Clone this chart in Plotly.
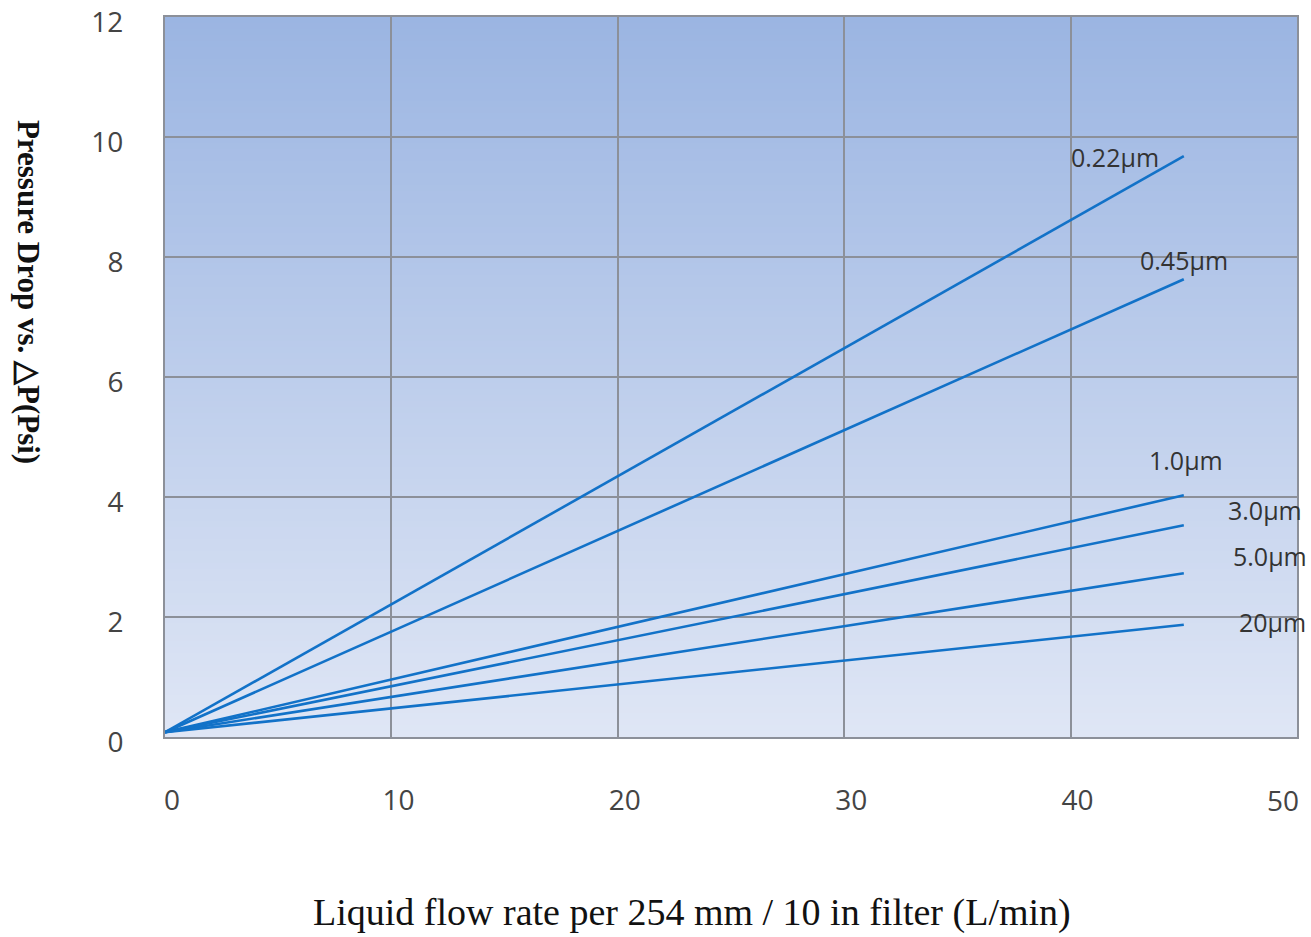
import plotly.graph_objects as go

# Data
sizes = ["0.22μm", "0.45μm", "1.0μm", "3.0μm", "5.0μm", "20μm"]
flow = [0, 45]
drop_022 = [0.08, 9.68]
drop_045 = [0.08, 7.63]
drop_10 = [0.08, 4.03]
drop_30 = [0.08, 3.53]
drop_50 = [0.08, 2.73]
drop_20 = [0.08, 1.87]
series = [drop_022, drop_045, drop_10, drop_30, drop_50, drop_20]

# Label anchor positions (data coords)
label_x = [41.96, 45.0, 45.1, 48.6, 48.8, 48.9]
label_y = [9.67, 7.95, 4.62, 3.78, 3.02, 1.92]

x_ticks = [0, 10, 20, 30, 40, 50]
x_ticktext = ["0", "10", "20", "30", "40", ""]
x_last_label = "50"
y_ticks = [0, 2, 4, 6, 8, 10, 12]

LINE = "#1272c8"
GRID = "#8c9099"
TICKFONT = dict(family="Open Sans", size=28, color="#444444")

fig = go.Figure()
for name, ys in zip(sizes, series):
    fig.add_trace(go.Scatter(x=flow, y=ys, mode="lines", name=name,
                             line=dict(color=LINE, width=2.6), showlegend=False))

for name, lx, ly in zip(sizes, label_x, label_y):
    fig.add_annotation(x=lx, y=ly, text=name, showarrow=False,
                       font=dict(family="Open Sans", size=25, color="#333333"))

# last x tick label pulled inside the page edge, as in the reference
fig.add_annotation(x=x_ticks[-1], xref="x", yref="paper", y=-0.0875, xshift=-14,
                   xanchor="center", yanchor="middle",
                   text=x_last_label, showarrow=False, font=TICKFONT)

# vertical gradient background
top = (155, 181, 226)
bot = (223, 230, 245)
n = 120
shapes = []
for i in range(n):
    t = i / (n - 1)
    c = tuple(round(bot[k] + (top[k] - bot[k]) * t) for k in range(3))
    shapes.append(dict(type="rect", xref="x domain", yref="y domain",
                       x0=0, x1=1, y0=i / n, y1=(i + 1) / n + 0.002,
                       fillcolor="rgb(%d,%d,%d)" % c, line=dict(width=0),
                       layer="below"))

fig.add_annotation(xref="paper", yref="paper", x=-0.12, y=0.618,
                   xanchor="center", yanchor="middle",
                   text="<b>Pressure Drop vs. △P(Psi)</b>", textangle=90, showarrow=False,
                   font=dict(family="Liberation Serif", size=31, color="#111111"))
fig.add_annotation(xref="paper", yref="paper", x=0.4655, y=-0.244,
                   xanchor="center", yanchor="middle",
                   text="Liquid flow rate per 254 mm / 10 in filter (L/min)", showarrow=False,
                   font=dict(family="Liberation Serif", size=38, color="#111111"))

fig.update_layout(
    width=1311, height=937,
    margin=dict(l=165, r=14, t=17, b=200, autoexpand=False),
    paper_bgcolor="white", plot_bgcolor="rgba(0,0,0,0)",
    shapes=shapes,
    xaxis=dict(range=[0, 50], tickvals=x_ticks, ticktext=x_ticktext,
               showgrid=True, gridcolor=GRID, gridwidth=2,
               showline=True, linecolor=GRID, linewidth=2, mirror=True, zeroline=False,
               automargin=False, ticklabeloverflow="allow", ticklabelshift=7,
               ticks="outside", ticklen=37, tickcolor="rgba(0,0,0,0)", tickfont=TICKFONT),
    yaxis=dict(range=[0, 12], tickvals=y_ticks, showgrid=True, gridcolor=GRID, gridwidth=2,
               showline=True, linecolor=GRID, linewidth=2, mirror=True, zeroline=False,
               automargin=False, ticklabeloverflow="allow", ticklabelshift=5,
               ticks="outside", ticklen=34, tickcolor="rgba(0,0,0,0)", tickfont=TICKFONT),
)

fig.write_html("out.html", config={"displayModeBar": False},
               post_script="document.body.style.margin='0';document.body.style.overflow='hidden';")
